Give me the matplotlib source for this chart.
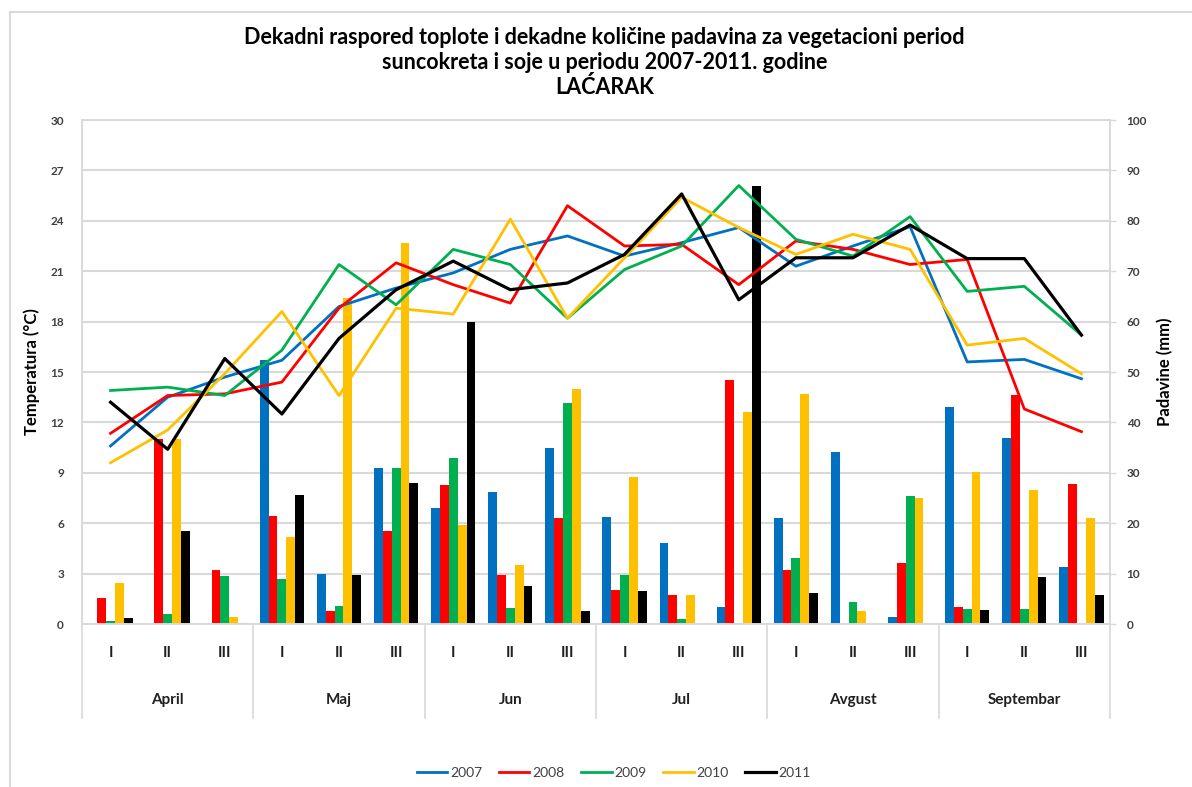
import matplotlib.pyplot as plt
import numpy as np
from matplotlib.patches import Rectangle

plt.rcParams['font.family'] = ['Lato', 'DejaVu Sans']

months = ['April', 'Maj', 'Jun', 'Jul', 'Avgust', 'Septembar']
decades = ['I', 'II', 'III']
years = ['2007', '2008', '2009', '2010', '2011']
colors = ['#0070C0', '#FF0000', '#00B050', '#FFC000', '#000000']

# temperature per decade (°C)
temp_2007 = [10.6, 13.5, 14.7, 15.7, 18.9, 20.0, 20.9, 22.3, 23.1, 21.9, 22.7, 23.6,
             21.3, 22.5, 23.65, 15.6, 15.75, 14.6]
temp_2008 = [11.35, 13.6, 13.7, 14.4, 18.8, 21.5, 20.2, 19.1, 24.9, 22.5, 22.6, 20.2,
             22.8, 22.3, 21.4, 21.7, 12.8, 11.45]
temp_2009 = [13.9, 14.1, 13.6, 16.3, 21.4, 19.0, 22.3, 21.4, 18.2, 21.1, 22.5, 26.1,
             22.9, 21.9, 24.25, 19.8, 20.1, 17.2]
temp_2010 = [9.6, 11.55, 14.9, 18.6, 13.6, 18.8, 18.45, 24.1, 18.2, 21.8, 25.4, 23.6,
             22.0, 23.2, 22.3, 16.6, 17.0, 14.9]
temp_2011 = [13.2, 10.4, 15.8, 12.5, 17.0, 19.9, 21.6, 19.9, 20.3, 22.0, 25.6, 19.3,
             21.8, 21.8, 23.75, 21.75, 21.75, 17.2]

# precipitation per decade (mm)
rain_2007 = [0, 0, 0, 52.4, 10.0, 31.0, 23.1, 26.1, 35.0, 21.3, 16.1, 3.4,
             21.0, 34.2, 1.3, 43.0, 37.0, 11.4]
rain_2008 = [5.2, 36.8, 10.7, 21.5, 2.6, 18.5, 27.6, 9.7, 21.0, 6.7, 5.75, 48.4,
             10.7, 0, 12.2, 3.4, 45.4, 27.8]
rain_2009 = [0.5, 1.9, 9.5, 8.9, 3.6, 31.0, 32.9, 3.1, 43.8, 9.7, 0.9, 0,
             13.0, 4.4, 25.4, 3.0, 3.0, 0]
rain_2010 = [8.1, 36.8, 1.3, 17.3, 64.7, 75.5, 19.6, 11.8, 46.6, 29.1, 5.75, 42.0,
             45.6, 2.6, 25.1, 30.1, 26.6, 21.0]
rain_2011 = [1.1, 18.5, 0.2, 25.5, 9.7, 28.0, 59.9, 7.5, 2.6, 6.5, 0, 86.9,
             6.2, 0, 0, 2.8, 9.3, 5.75]

temps = [temp_2007, temp_2008, temp_2009, temp_2010, temp_2011]
rains = [rain_2007, rain_2008, rain_2009, rain_2010, rain_2011]

n = len(temp_2007)
x = np.arange(n)
grid_col = '#d9d9d9'
tick_col = '#404040'

fig = plt.figure(figsize=(11.92, 7.87), dpi=100)
fig.patches.append(Rectangle((0.0084, -0.02), 1.1, 1.005, transform=fig.transFigure,
                             fill=False, edgecolor=grid_col, lw=1.5))

ax = fig.add_axes([0.0688, 0.2071, 0.8624, 0.6404])
ax2 = ax.twinx()

# bars on the precipitation axis (drawn first, under the lines)
bw = 0.155
for k, (r, c) in enumerate(zip(rains, colors)):
    ax.bar(x + (k - 2) * bw, r, width=bw, color=c, zorder=2)
ax.set_ylim(0, 100)
ax.set_yticks(np.arange(0, 101, 10))
ax.yaxis.tick_right()
ax.yaxis.set_label_position('right')
ax.set_ylabel('Padavine (mm)', fontsize=12, fontweight='bold', labelpad=7)

# temperature lines
for t, c, yr in zip(temps, colors, years):
    lw = 2.3 if yr == '2011' else 2.0
    ax2.plot(x, t, color=c, lw=lw, label=yr, zorder=3)
ax2.set_ylim(0, 30)
ax2.set_yticks(np.arange(0, 31, 3))
ax2.yaxis.tick_left()
ax2.yaxis.set_label_position('left')
ax2.set_ylabel('Temperatura (°C)', fontsize=12, fontweight='bold', labelpad=7)

ax.set_xlim(-0.5, n - 0.5)
ax.grid(axis='y', color=grid_col, lw=1.5, zorder=0)
ax.set_axisbelow(True)

for a in (ax, ax2):
    for s in a.spines.values():
        s.set_color(grid_col)
        s.set_linewidth(1.2)
ax.tick_params(axis='y', labelsize=8.5, colors=tick_col, length=4, width=1, color=grid_col, pad=8)
ax2.tick_params(axis='y', labelsize=8.5, colors=tick_col, length=0, pad=13)
for lab in ax.get_yticklabels() + ax2.get_yticklabels():
    lab.set_fontweight('bold')
ax2.yaxis.label.set_color('black')
ax.yaxis.label.set_color('black')

# two-level category axis
ax.set_xticks(x)
ax.set_xticklabels(decades * len(months), fontsize=11, fontweight='bold')
ax.tick_params(axis='x', length=0, pad=16, colors='#202020')
trans = ax.get_xaxis_transform()
for i, m in enumerate(months):
    ax.text(3 * i + 1, -0.151, m, transform=trans, ha='center', va='center',
            fontsize=11, fontweight='bold', color='#202020')
for b in range(len(months) + 1):
    ax.plot([3 * b - 0.5, 3 * b - 0.5], [0, -0.187], transform=trans, color=grid_col,
            lw=1.2, clip_on=False)

fig.text(0.507, 0.92,
         'Dekadni raspored toplote i dekadne količine padavina za vegetacioni period\n'
         'suncokreta i soje u periodu 2007-2011. godine\nLAĆARAK',
         ha='center', va='center', fontsize=15.5, fontweight='bold', linespacing=1.2)

handles, labels = ax2.get_legend_handles_labels()
fig.legend(handles, labels, loc='center', bbox_to_anchor=(0.515, 0.018), ncol=5,
           frameon=False, fontsize=10, handlelength=2.2, handletextpad=0.2,
           columnspacing=1.2, labelcolor='#404040')

fig.savefig('out.png', dpi=100)
